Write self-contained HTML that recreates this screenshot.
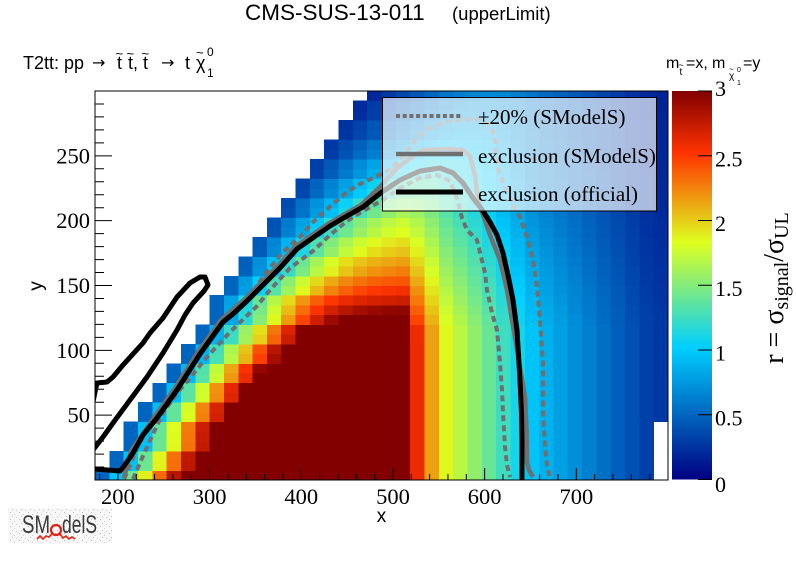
<!DOCTYPE html>
<html><head><meta charset="utf-8">
<style>
html,body{margin:0;padding:0;background:#fff;width:796px;height:572px;overflow:hidden;}
svg{display:block;}
text{font-family:"Liberation Sans",sans-serif;fill:#000;}
.sf{font-family:"Liberation Serif",serif;}
</style></head>
<body>
<svg id="c" width="796" height="572" viewBox="0 0 796 572" xmlns="http://www.w3.org/2000/svg">
<defs>
<linearGradient id="pal" x1="0" y1="0" x2="0" y2="1">
<stop offset="0" stop-color="rgb(130,0,0)"/>
<stop offset="0.16" stop-color="rgb(255,51,0)"/>
<stop offset="0.39" stop-color="rgb(222,255,31)"/>
<stop offset="0.66" stop-color="rgb(0,207,255)"/>
<stop offset="1" stop-color="rgb(0,0,130)"/>
</linearGradient>
<clipPath id="pc"><rect x="95" y="91" width="573" height="389"/></clipPath>
<pattern id="speck" x="0" y="0" width="9" height="7" patternUnits="userSpaceOnUse">
<rect width="9" height="7" fill="#f7f7f7"/>
<rect x="1" y="1" width="1" height="1" fill="#bbb"/>
<rect x="5" y="3" width="1" height="1" fill="#ccc"/>
<rect x="3" y="5" width="1" height="1" fill="#c4c4c4"/>
<rect x="7" y="6" width="1" height="1" fill="#d0d0d0"/>
</pattern>
</defs>

<!-- title -->
<text x="245" y="20" font-size="22.5">CMS-SUS-13-011</text>
<text x="452" y="20" font-size="18.5">(upperLimit)</text>

<!-- subtitle -->
<text x="23" y="69" font-size="18">T2tt: pp</text>
<text x="92" y="68" font-size="16" style="font-family:'DejaVu Sans',sans-serif">→</text>
<text x="117" y="69" font-size="18">t</text>
<text x="128" y="69" font-size="18">t,</text>
<text x="143" y="69" font-size="18">t</text>
<text x="161" y="68" font-size="16" style="font-family:'DejaVu Sans',sans-serif">→</text>
<text x="185" y="69" font-size="18">t</text>
<text x="196" y="69" font-size="18">χ</text>
<text x="115.5" y="58" font-size="13">~</text>
<text x="126.5" y="58" font-size="13">~</text>
<text x="141.5" y="58" font-size="13">~</text>
<text x="196" y="57" font-size="13">~</text>
<text x="207" y="56" font-size="12">0</text>
<text x="207" y="77" font-size="12">1</text>

<!-- top-right label -->
<text x="666" y="68" font-size="16">m</text>
<text x="679.5" y="75" font-size="10">t</text>
<text x="678.5" y="68" font-size="9">~</text>
<text x="686" y="68" font-size="16">=x,</text>
<text x="712" y="68" font-size="16">m</text>
<text x="729" y="79" font-size="10">χ</text>
<text x="729" y="72" font-size="8">~</text>
<text x="737" y="72" font-size="7">0</text>
<text x="737" y="85" font-size="7">1</text>
<text x="743" y="68" font-size="16">=y</text>

<!-- heatmap -->
<g id="heat" shape-rendering="crispEdges"></g>

<!-- contours -->
<g clip-path="url(#pc)" fill="none" stroke-linejoin="round">
<polyline stroke="#6f6f6f" stroke-width="4" stroke-dasharray="6,4" points="124,479 127,473 137,447 160,410 183,377 203,347 223,323 247,300 265,274 283,252 300,237 313,222 333,204 347,192 360,184 373,178 387,171 398,162 408,150 418,137 430,128 445,122 460,120 478,119 490,125 495,138 496,155 499,172 507,191 513,205 520,217 527,237 533,260 537,287 540,320 543,363 543,413 545,447 547,465 550,478"/>
<polyline stroke="#6f6f6f" stroke-width="4" stroke-dasharray="6,4" points="133,479 143,456 152,436 163,413 177,393 190,378 207,357 230,332 257,306 270,290 290,268 313,251 330,235 347,221 363,211 383,200 400,188 420,178 437,175 450,181 457,198 462,218 467,230 477,240 485,273 487,290 492,313 497,330 500,363 502,390 503,413 505,447 507,465 510,477"/>
<polyline stroke="#6f6f6f" stroke-width="4.5" points="124,478 131,451 155,416 175,388 198,352 221,320 245,299 260,284 278,266 295,247 315,233 328,224 345,214 361,205 380,187 397,168 413,156 423,150 447,149 463,150 470,156 475,175 478,200 482,212 490,235 500,260 507,290 512,320 517,350 521,373 525,397 526.5,430 527,463 529,470 533,477"/>
<polyline stroke="#000" stroke-width="5" points="95,469 120,471 124,466 133,453 143,435 157,418 177,390 200,354 223,322 233,314 247,301 262,286 280,268 297,249 317,235 330,226 347,216 363,207 382,192 400,180 420,171 440,168 453,173 463,183 473,198 483,211 490,222 497,235 503,253 508,275 513,300 517,330 520,380 521.5,413 522,440 522,480"/>
<polyline stroke="#000" stroke-width="5" points="93,402 95,392 97,383 107,382 113,377 123,365 133,354 143,343 150,333 163,318 177,297 190,283 200,277 205,277 208,285 204,291 193,303 185,315 177,330 163,353 147,377 130,400 113,423 103,437 93,450"/>
</g>

<!-- frame -->
<rect x="95" y="91" width="573" height="389" fill="none" stroke="#000" stroke-width="1"/>

<!-- ticks -->
<path stroke="#000" stroke-width="1" fill="none" d="M99.58 480v-6M117.92 480v-12M136.26 480v-6M154.59 480v-6M172.93 480v-6M191.26 480v-6M209.6 480v-12M227.94 480v-6M246.27 480v-6M264.61 480v-6M282.94 480v-6M301.28 480v-12M319.62 480v-6M337.95 480v-6M356.29 480v-6M374.62 480v-6M392.96 480v-12M411.3 480v-6M429.63 480v-6M447.97 480v-6M466.3 480v-6M484.64 480v-12M502.98 480v-6M521.31 480v-6M539.65 480v-6M557.98 480v-6M576.32 480v-12M594.66 480v-6M612.99 480v-6M631.33 480v-6M649.66 480v-6"/>
<path stroke="#000" stroke-width="1" fill="none" d="M95 467.03h9M95 454.07h9M95 441.1h9M95 428.13h9M95 415.17h17M95 402.2h9M95 389.23h9M95 376.27h9M95 363.3h9M95 350.33h17M95 337.37h9M95 324.4h9M95 311.43h9M95 298.47h9M95 285.5h17M95 272.53h9M95 259.57h9M95 246.6h9M95 233.63h9M95 220.67h17M95 207.7h9M95 194.73h9M95 181.77h9M95 168.8h9M95 155.83h17M95 142.87h9M95 129.9h9M95 116.93h9M95 103.97h9"/>

<!-- axis labels -->
<g font-size="22.5" text-anchor="middle">
<text x="117.92" y="504" style="font-family:'Liberation Serif',serif">200</text>
<text x="209.6" y="504" style="font-family:'Liberation Serif',serif">300</text>
<text x="301.28" y="504" style="font-family:'Liberation Serif',serif">400</text>
<text x="392.96" y="504" style="font-family:'Liberation Serif',serif">500</text>
<text x="484.64" y="504" style="font-family:'Liberation Serif',serif">600</text>
<text x="576.32" y="504" style="font-family:'Liberation Serif',serif">700</text>
</g>
<g font-size="22.5" text-anchor="end">
<text x="90" y="422.7" style="font-family:'Liberation Serif',serif">50</text>
<text x="90" y="357.8" style="font-family:'Liberation Serif',serif">100</text>
<text x="90" y="293" style="font-family:'Liberation Serif',serif">150</text>
<text x="90" y="228.2" style="font-family:'Liberation Serif',serif">200</text>
<text x="90" y="163.3" style="font-family:'Liberation Serif',serif">250</text>
</g>
<text x="381.5" y="522" font-size="19" text-anchor="middle">x</text>
<text transform="translate(42,286) rotate(-90)" font-size="19" text-anchor="middle">y</text>

<!-- legend -->
<rect x="382.5" y="97.5" width="274" height="113.5" fill="#fff" fill-opacity="0.67" stroke="#000" stroke-width="1"/>
<line x1="396" y1="116" x2="463" y2="116" stroke="#6f6f6f" stroke-width="4" stroke-dasharray="4,2.7"/>
<line x1="396" y1="154" x2="463" y2="154" stroke="#6f6f6f" stroke-width="4.5"/>
<line x1="396" y1="192" x2="463" y2="192" stroke="#000" stroke-width="5"/>
<text x="478" y="124" font-size="21" style="font-family:'Liberation Serif',serif">±20% (SModelS)</text>
<text x="478" y="163" font-size="21" style="font-family:'Liberation Serif',serif">exclusion (SModelS)</text>
<text x="478" y="201" font-size="21" style="font-family:'Liberation Serif',serif">exclusion (official)</text>

<!-- colorbar -->
<rect x="672" y="91" width="40" height="388.5" fill="url(#pal)"/>
<path stroke="#000" stroke-width="1" fill="none" d="M698 479.5h14M698 414.75h14M698 350h14M698 285.25h14M698 220.5h14M698 155.75h14M698 91h14"/>
<g font-size="22">
<text x="715" y="96" style="font-family:'Liberation Serif',serif">3</text>
<text x="715" y="166.5" style="font-family:'Liberation Serif',serif">2.5</text>
<text x="715" y="231" style="font-family:'Liberation Serif',serif">2</text>
<text x="715" y="296" style="font-family:'Liberation Serif',serif">1.5</text>
<text x="715" y="360.5" style="font-family:'Liberation Serif',serif">1</text>
<text x="715" y="425.5" style="font-family:'Liberation Serif',serif">0.5</text>
<text x="715" y="492" style="font-family:'Liberation Serif',serif">0</text>
</g>
<text transform="translate(783,288) rotate(-90)" text-anchor="middle" font-size="28" style="font-family:'Liberation Serif',serif">r = σ<tspan font-size="20" dy="5">signal</tspan><tspan font-size="28" dy="-5">/σ</tspan><tspan font-size="20" dy="5">UL</tspan></text>

<!-- SModelS logo -->
<rect x="8" y="508" width="104" height="35" fill="url(#speck)"/>
<text x="22" y="533" font-size="25" textLength="28" lengthAdjust="spacingAndGlyphs" style="fill:#3a3a3a">SM</text>
<circle cx="56" cy="530" r="5" fill="none" stroke="#e8200f" stroke-width="2.2"/>
<polyline points="37,539 40,536 43,539 46,536 49,537 52,534" fill="none" stroke="#e8200f" stroke-width="1.6"/>
<polyline points="60,534 63,538 66,536 69,539 72,537 75,539" fill="none" stroke="#e8200f" stroke-width="1.6"/>
<text x="62" y="533" font-size="25" textLength="35" lengthAdjust="spacingAndGlyphs" style="fill:#3a3a3a">delS</text>
</svg>

<script>
(function(){
var NS="http://www.w3.org/2000/svg";
var heat=document.getElementById('heat');
var topRow=[0,2,5,7,9,11,13,15,18,20,22,24,26,28,30,32,34,36,38,39];
function firstcol(j){for(var i=0;i<20;i++){if(topRow[i]>=j)return i;}return 19;}
function interp(tab,v){
 if(v<=tab[0][0])return tab[0][1];
 for(var n=1;n<tab.length;n++){if(v<=tab[n][0]){var a=tab[n-1],b=tab[n];return a[1]+(b[1]-a[1])*(v-a[0])/(b[0]-a[0]);}}
 return tab[tab.length-1][1];
}
var SL=[[0,0.46],[5,0.445],[10,0.42],[15,0.36],[20,0.26],[25,0.21],[30,0.15],[35,0.09],[39,0.08]];
var A0=[[0,0.5],[20,0.5],[39,0.196]];
var B=[[0,6],[15,6],[16,3.3],[17,3.0],[18,2.75],[19,2.6],[20,2.45],[21,2.32],[22,2.2],[23,2.1],[24,2.0],[25,1.92],[27,1.8],[30,1.5],[33,1.2],[36,0.95],[39,0.75]];
var CX={22:2.6,23:2.15,24:1.85,25:1.7,26:1.55,27:1.4,28:1.25,29:1.1,30:0.96,31:0.87,32:0.79,33:0.71,34:0.63,35:0.55,36:0.47,37:0.39,38:0.32,39:0.28};
var M=[[0,1],[15,1],[20,0.9],[27,0.75],[34,0.68],[39,0.62]];
var stops=[[0,[0,0,130]],[0.34,[0,207,255]],[0.61,[222,255,31]],[0.84,[255,51,0]],[1,[130,0,0]]];
function color(r){
 var t=Math.max(0,Math.min(1,r/3));
 for(var n=1;n<stops.length;n++){
  if(t<=stops[n][0]){
   var a=stops[n-1],b=stops[n],f=(t-a[0])/(b[0]-a[0]);
   return 'rgb('+Math.round(a[1][0]+(b[1][0]-a[1][0])*f)+','+Math.round(a[1][1]+(b[1][1]-a[1][1])*f)+','+Math.round(a[1][2]+(b[1][2]-a[1][2])*f)+')';
  }
 }
 return 'rgb(130,0,0)';
}
var W=573/40,H=389/40;
for(var i=0;i<40;i++){
 for(var j=0;j<40;j++){
  if(i<20&&topRow[i]<j)continue;
  if(i==39&&j<=5)continue;
  var k=i-firstcol(j);
  var Ad=interp(A0,j)+interp(SL,j)*k;
  var b=interp(B,j);
  var cx=(i<=21?6:CX[i])*interp(M,j);
  var r=Math.pow(Math.pow(Ad,-6)+Math.pow(b,-6)+Math.pow(cx,-6),-1/6);
  var e=document.createElementNS(NS,'rect');
  var x=95+i*W, y=480-(j+1)*H;
  var w=W+0.5, h=H+0.5;
  if(i==39) w=668-x;
  if(j==0) h=480-y;
  e.setAttribute('x',x.toFixed(2));
  e.setAttribute('y',y.toFixed(2));
  e.setAttribute('width',w.toFixed(2));
  e.setAttribute('height',h.toFixed(2));
  e.setAttribute('fill',color(r));
  heat.appendChild(e);
 }
}
})();
</script>
</body></html>
